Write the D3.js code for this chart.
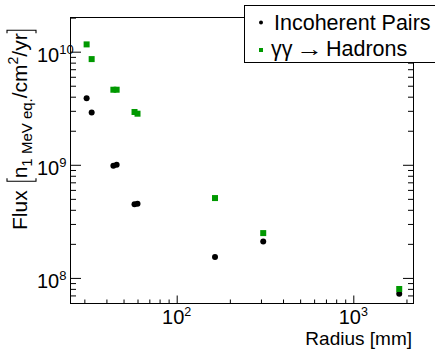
<!DOCTYPE html>
<html>
<head>
<meta charset="utf-8">
<script src="https://cdn.jsdelivr.net/npm/d3@7"></script>
<style>
  body { margin: 0; background: #fff; }
  svg { display: block; font-family: "Liberation Sans", Arial, Helvetica, sans-serif; }
</style>
</head>
<body>
<svg width="435" height="349"></svg>
<script>
// radius [mm] of each layer
const radius = [30.9, 33.0, 43.8, 45.7, 57.7, 60.0, 164.8, 309, 1820];
// flux, n_1MeV eq / cm^2 / yr
const incoherentPairs = [3.88e9, 2.90e9, 9.8e8, 1.0e9, 4.48e8, 4.52e8, 1.53e8, 2.10e8, 7.25e7];
const ggHadrons = [1.16e10, 8.6e9, 4.61e9, 4.61e9, 2.93e9, 2.83e9, 5.08e8, 2.49e8, 7.98e7];

const xExponents = [2, 3];
const yExponents = [8, 9, 10];
const legendLabels = ["Incoherent Pairs", ["\u03b3\u03b3", "\u2192", "Hadrons"]];
const green = "#009900";

const frameL = 70, frameR = 413, frameT = 17, frameB = 303;

const svg = d3.select("svg");

const x = d3.scaleLog().domain([24.88, 2178]).range([frameL, frameR]);
const y = d3.scaleLog().domain([6.0e7, 2.026e10]).range([frameB, frameT]);

// tick values: major at decades, minor at 2..9
function logTicks(dom, major) {
  const out = [];
  for (let e = Math.floor(Math.log10(dom[0])); e <= Math.ceil(Math.log10(dom[1])); e++) {
    for (let m = 1; m <= 9; m++) {
      const v = m * Math.pow(10, e);
      if (v < dom[0] || v > dom[1]) continue;
      if ((m === 1) === major) out.push(v);
    }
  }
  return out;
}

// frame
svg.append("rect")
  .attr("x", frameL + 0.5).attr("y", frameT + 0.5)
  .attr("width", frameR - frameL).attr("height", frameB - frameT)
  .attr("fill", "none").attr("stroke", "#000").attr("stroke-width", 1);

function tickAxis(axis, vals, size, tx, ty) {
  const g = svg.append("g")
    .attr("transform", `translate(${tx},${ty})`)
    .call(axis.tickValues(vals).tickSize(size).tickFormat(""));
  g.select(".domain").remove();
  g.selectAll("line").attr("stroke", "#000");
}

// x ticks (bottom, pointing up)
tickAxis(d3.axisBottom(x), logTicks(x.domain(), true), -8, 0, frameB + 0.5);
tickAxis(d3.axisBottom(x), logTicks(x.domain(), false), -4, 0, frameB + 0.5);
// y ticks left and right
tickAxis(d3.axisLeft(y), logTicks(y.domain(), true), -10.5, frameL + 0.5, 0);
tickAxis(d3.axisLeft(y), logTicks(y.domain(), false), -5.5, frameL + 0.5, 0);
tickAxis(d3.axisRight(y), logTicks(y.domain(), true), -10.5, frameR + 0.5, 0);
tickAxis(d3.axisRight(y), logTicks(y.domain(), false), -5.5, frameR + 0.5, 0);

// tick labels
xExponents.forEach(e => {
  const t = svg.append("text")
    .attr("x", x(Math.pow(10, e)))
    .attr("y", 323.5)
    .attr("text-anchor", "middle")
    .attr("font-size", 20);
  t.append("tspan").text("10");
  t.append("tspan").attr("font-size", 12.5).attr("dy", -7.5).text(e);
});
yExponents.forEach(e => {
  const t = svg.append("text")
    .attr("x", 37)
    .attr("y", y(Math.pow(10, e)) + 10)
    .attr("font-size", 20);
  t.append("tspan").text("10");
  t.append("tspan").attr("font-size", 13).attr("dy", -8).text(e);
});

// x title
svg.append("text")
  .attr("x", 412).attr("y", 345)
  .attr("text-anchor", "end")
  .attr("font-size", 19)
  .text("Radius [mm]");

// y title, built piece by piece in rotated frame
const yt = svg.append("g").attr("transform", "translate(27,230) rotate(-90)");
let cx = 0;
function piece(str, size, dy) {
  const t = yt.append("text").attr("x", cx).attr("y", dy).attr("font-size", size).text(str);
  cx += t.node().getComputedTextLength();
  return t;
}
function bracket(open) {
  const y0 = -20, y1 = 9, s = 3;
  const p = open
    ? `M${cx + s},${y0}H${cx}V${y1}H${cx + s}`
    : `M${cx - s},${y0}H${cx}V${y1}H${cx - s}`;
  yt.append("path").attr("d", p).attr("fill", "none").attr("stroke", "#000").attr("stroke-width", 1.1);
}
piece("Flux", 21, 0);
cx += 9;
bracket(true);
cx += 3;
piece("n", 21, 0);
piece("1 MeV eq.", 15, 5);
piece("/cm", 21, 0);
piece("2", 14, -9);
piece("/yr", 21, 0);
cx += 3;
bracket(false);

// points
svg.append("g").selectAll("circle")
  .data(radius.map((r, i) => [r, incoherentPairs[i]]))
  .join("circle")
  .attr("cx", d => x(d[0]))
  .attr("cy", d => y(d[1]))
  .attr("r", 3)
  .attr("fill", "#000");

svg.append("g").selectAll("rect")
  .data(radius.map((r, i) => [r, ggHadrons[i]]))
  .join("rect")
  .attr("x", d => x(d[0]) - 3)
  .attr("y", d => y(d[1]) - 3)
  .attr("width", 6).attr("height", 6)
  .attr("fill", green);

// legend
const lg = svg.append("g");
lg.append("rect")
  .attr("x", 244.5).attr("y", 5.5)
  .attr("width", 200).attr("height", 57)
  .attr("fill", "#fff").attr("stroke", "#000");
lg.append("circle").attr("cx", 261).attr("cy", 22.5).attr("r", 2).attr("fill", "#000");
lg.append("rect").attr("x", 259).attr("y", 48).attr("width", 4).attr("height", 4).attr("fill", green);
lg.append("text")
  .attr("x", 274).attr("y", 29.5)
  .attr("font-size", 21.5)
  .text(legendLabels[0]);
// second entry: gamma gamma, stretched arrow, Hadrons
lg.append("text").attr("x", 271).attr("y", 55.5).attr("font-size", 21.5).text(legendLabels[1][0]);
lg.append("text").attr("x", 296).attr("y", 55.5).attr("font-size", 21.5)
  .attr("textLength", 27).attr("lengthAdjust", "spacingAndGlyphs")
  .text(legendLabels[1][1]);
lg.append("text").attr("x", 326).attr("y", 55.5).attr("font-size", 21.5).text(legendLabels[1][2]);
</script>
</body>
</html>
